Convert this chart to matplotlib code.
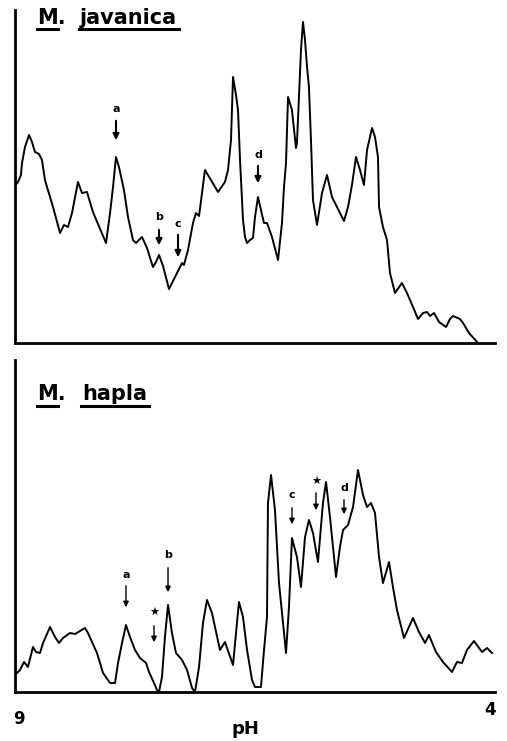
import matplotlib
matplotlib.use("Agg")
import matplotlib.pyplot as plt

# densitometer scans of the gels, pH 9 (left) to pH 4 (right)
# M. javanica
jav_ph = [8.993, 8.969, 8.938, 8.927, 8.896, 8.854, 8.823, 8.792, 8.750, 8.719,
          8.688, 8.604, 8.531, 8.490, 8.448, 8.406, 8.344, 8.302, 8.250, 8.188,
          8.052, 8.010, 7.979, 7.948, 7.917, 7.865, 7.823, 7.771, 7.740, 7.677,
          7.625, 7.563, 7.531, 7.500, 7.458, 7.396, 7.354, 7.302, 7.260, 7.240,
          7.198, 7.146, 7.115, 7.083, 7.052, 7.021, 6.990, 6.885, 6.813, 6.781,
          6.750, 6.729, 6.698, 6.677, 6.656, 6.625, 6.604, 6.583, 6.552, 6.521,
          6.500, 6.469, 6.438, 6.406, 6.375, 6.323, 6.260, 6.219, 6.198, 6.177,
          6.156, 6.115, 6.104, 6.073, 6.063, 6.042, 6.021, 6.000, 5.979, 5.958,
          5.938, 5.917, 5.896, 5.854, 5.802, 5.750, 5.698, 5.646, 5.573, 5.531,
          5.490, 5.448, 5.406, 5.365, 5.333, 5.281, 5.250, 5.219, 5.208, 5.167,
          5.125, 5.094, 5.042, 4.969, 4.917, 4.854, 4.802, 4.750, 4.708, 4.677,
          4.635, 4.583, 4.510, 4.469, 4.438, 4.365, 4.333, 4.271, 4.177]
jav_abs = [158, 161, 168, 180, 196, 208, 201, 191, 189, 183,
           163, 136, 110, 118, 116, 130, 161, 150, 151, 131,
           100, 130, 156, 186, 176, 153, 126, 103, 100, 106,
           95, 76, 81, 88, 77, 54, 62, 72, 80, 78,
           93, 120, 130, 127, 150, 173, 168, 151, 161, 173,
           203, 266, 248, 233, 183, 123, 106, 100, 103, 105,
           126, 146, 133, 120, 120, 106, 83, 120, 156, 180,
           246, 233, 223, 195, 200, 246, 293, 321, 303, 276,
           256, 203, 143, 118, 150, 168, 146, 136, 122, 136,
           158, 186, 173, 158, 193, 215, 206, 186, 136, 116,
           103, 70, 50, 60, 50, 36, 24, 30, 31, 27,
           30, 21, 16, 24, 27, 24, 20, 10, 0]

# M. hapla
hap_ph = [8.979, 8.948, 8.906, 8.865, 8.813, 8.781, 8.740, 8.708, 8.635, 8.583,
          8.542, 8.500, 8.427, 8.375, 8.271, 8.240, 8.146, 8.083, 8.010, 7.958,
          7.927, 7.885, 7.844, 7.802, 7.750, 7.698, 7.635, 7.604, 7.552, 7.521,
          7.500, 7.469, 7.438, 7.406, 7.365, 7.323, 7.260, 7.208, 7.156, 7.125,
          7.083, 7.042, 7.000, 6.948, 6.865, 6.813, 6.729, 6.688, 6.667, 6.625,
          6.583, 6.531, 6.500, 6.479, 6.438, 6.406, 6.375, 6.365, 6.333, 6.292,
          6.250, 6.208, 6.177, 6.146, 6.115, 6.063, 6.021, 5.979, 5.938, 5.896,
          5.844, 5.792, 5.760, 5.719, 5.656, 5.615, 5.583, 5.531, 5.479, 5.427,
          5.375, 5.333, 5.292, 5.250, 5.208, 5.167, 5.104, 5.063, 5.021, 4.948,
          4.854, 4.792, 4.729, 4.688, 4.615, 4.542, 4.448, 4.396, 4.344, 4.292,
          4.219, 4.135, 4.083, 4.031]
hap_abs = [19, 22, 30, 25, 45, 40, 39, 49, 65, 55,
           49, 54, 59, 58, 64, 59, 39, 19, 9, 9,
           29, 49, 67, 55, 42, 34, 29, 20, 9, 2,
           0, 15, 55, 87, 59, 39, 32, 22, 4, 0,
           25, 69, 92, 79, 42, 50, 27, 69, 90, 75,
           42, 12, 5, 5, 5, 42, 75, 189, 217, 182,
           109, 69, 39, 85, 154, 135, 105, 155, 172, 159,
           130, 189, 210, 175, 115, 145, 162, 167, 185, 222,
           197, 185, 189, 179, 135, 109, 130, 105, 82, 54,
           74, 60, 49, 57, 40, 30, 20, 30, 29, 42,
           51, 40, 44, 39]

# marked bands: label, pH, label height, arrow start, arrow tip
jav_marks = [("a", 7.948, 234, 225, 200),
             ("b", 7.500, 126, 116, 95),
             ("c", 7.302, 119, 111, 83),
             ("d", 6.469, 188, 180, 157)]
hap_marks = [("a", 7.844, 117, 109, 82),
             ("\u2605", 7.552, 79, 69, 47),
             ("b", 7.406, 137, 127, 97),
             ("c", 6.115, 197, 187, 165),
             ("\u2605", 5.865, 210, 202, 179),
             ("d", 5.573, 204, 195, 175)]

W, H = 507, 741
fig = plt.figure(figsize=(W / 100, H / 100), dpi=100)
left, width = 15 / W, 480 / W
ax1 = fig.add_axes([left, 1 - 343 / H, width, 333 / H])
ax2 = fig.add_axes([left, 1 - 692 / H, width, 332 / H])


def style(ax, top):
    ax.set_xlim(9, 4)
    ax.set_ylim(0, top)
    for s in ["top", "right"]:
        ax.spines[s].set_visible(False)
    for s in ["left", "bottom"]:
        ax.spines[s].set_linewidth(2.0)
    ax.set_xticks([])
    ax.set_yticks([])


style(ax1, 333)
style(ax2, 332)

ax1.plot(jav_ph, jav_abs, color="black", lw=1.4)
ax2.plot(hap_ph, hap_abs, color="black", lw=1.4)

for lab, x, ty, y0, y1 in jav_marks:
    ax1.text(x, ty, lab, ha="center", va="center", fontsize=8, fontweight="bold")
    ax1.annotate("", xy=(x, y1), xytext=(x, y0),
                 arrowprops=dict(arrowstyle="-|>", color="black", lw=1.5, mutation_scale=9))
for lab, x, ty, y0, y1 in hap_marks:
    ax2.text(x, ty, lab, ha="center", va="center", fontsize=8, fontweight="bold")
    ax2.annotate("", xy=(x, y1), xytext=(x, y0),
                 arrowprops=dict(arrowstyle="-|>", color="black", lw=1.0, mutation_scale=8))

# species titles, underlined just below the baseline
titles = []
for ax, x1, x2, yb, gap, word in [(ax1, 0.0458, 0.1354, 0.958, 0.0165, "javanica"),
                                  (ax2, 0.0458, 0.1396, 0.8795, 0.018, "hapla")]:
    t1 = ax.text(x1, yb, "M.", transform=ax.transAxes, fontsize=15,
                 fontweight="bold", va="baseline")
    t2 = ax.text(x2, yb, word, transform=ax.transAxes, fontsize=15,
                 fontweight="bold", va="baseline")
    titles.append((ax, t1, t2, yb - gap))

fig.canvas.draw()
r = fig.canvas.get_renderer()
for ax, t1, t2, yl in titles:
    inv = ax.transAxes.inverted()
    b1 = t1.get_window_extent(r)
    b2 = t2.get_window_extent(r)
    a0 = inv.transform((b1.x0, 0))[0]
    a1 = inv.transform((b1.x0 + 0.72 * b1.width, 0))[0]
    c0 = inv.transform((b2.x0 - 1, 0))[0]
    c1 = inv.transform((b2.x1 + 2, 0))[0]
    ax.plot([a0, a1], [yl, yl], transform=ax.transAxes, color="black", lw=2.2, clip_on=False)
    ax.plot([c0, c1], [yl, yl], transform=ax.transAxes, color="black", lw=2.2, clip_on=False)

# pH scale
ax2.text(8.96, -0.081, "9", transform=ax2.get_xaxis_transform(), ha="center",
         va="center", fontsize=12, fontweight="bold")
ax2.text(4.05, -0.054, "4", transform=ax2.get_xaxis_transform(), ha="center",
         va="center", fontsize=12, fontweight="bold")
ax2.text(6.6, -0.111, "pH", transform=ax2.get_xaxis_transform(), ha="center",
         va="center", fontsize=13, fontweight="bold")

fig.savefig("out.png", dpi=100)
